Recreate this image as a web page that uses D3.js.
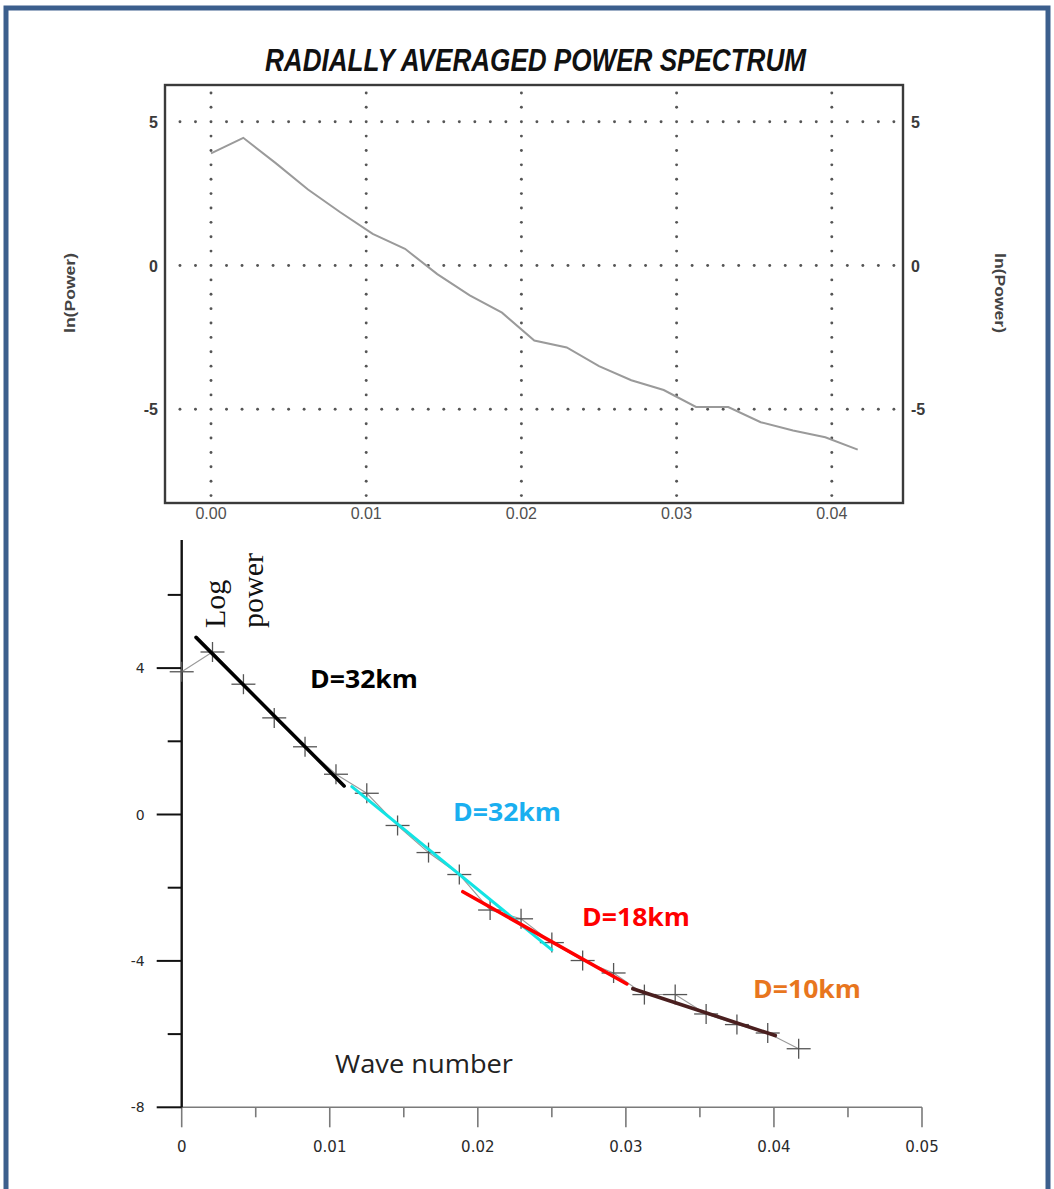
<!DOCTYPE html>
<html>
<head>
<meta charset="utf-8">
<script src="https://cdn.jsdelivr.net/npm/d3@7"></script>
<style>
  html, body { margin: 0; padding: 0; background: #fff; }
  svg { display: block; }
</style>
</head>
<body>
<svg id="chart" width="1054" height="1189"></svg>
<script>
// Radially averaged power spectrum: wave number vs ln(power)
const waveNumber = [0, 0.00208, 0.00417, 0.00625, 0.00833, 0.01042, 0.0125, 0.01458,
  0.01667, 0.01875, 0.02083, 0.02292, 0.025, 0.02708, 0.02917, 0.03125, 0.03333,
  0.03542, 0.0375, 0.03958, 0.04167];
const lnPower = [3.90, 4.44, 3.56, 2.64, 1.85, 1.10, 0.58, -0.30, -1.04, -1.64, -2.61,
  -2.85, -3.50, -3.99, -4.33, -4.92, -4.92, -5.45, -5.74, -5.97, -6.40];

// upper panel ticks
const topXTicks = [0, 0.01, 0.02, 0.03, 0.04];
const topXTickLabels = ["0.00", "0.01", "0.02", "0.03", "0.04"];
const topYTicks = [5, 0, -5];
const topYTickLabels = ["5", "0", "-5"];

// lower panel ticks
const botXTicks = [0, 0.01, 0.02, 0.03, 0.04, 0.05];
const botXTickLabels = ["0", "0.01", "0.02", "0.03", "0.04", "0.05"];
const botXMinor = [0.005, 0.015, 0.025, 0.035, 0.045];
const botYTicks = [4, 0, -4, -8];
const botYTickLabels = ["4", "0", "-4", "-8"];
const botYMinor = [6, 2, -2, -6];

// straight-line fits of the spectral segments (depth estimates)
const fitLabels = ["D=32km", "D=32km", "D=18km", "D=10km"];
const fitX0 = [0.00097, 0.01149, 0.01899, 0.03047];
const fitY0 = [4.84, 0.76, -2.11, -4.76];
const fitX1 = [0.01097, 0.02500, 0.03007, 0.04009];
const fitY1 = [0.78, -3.70, -4.63, -6.04];

// styling for fits and their labels
const fitColors = ["#000000", "#12e4e4", "#ff0000", "#4a1f1f"];
const labelColors = ["#000000", "#1aaff0", "#ff0000", "#e8761e"];
const labelPos = [[310, 688], [453, 821], [582, 926], [753, 998]];

const svg = d3.select("#chart");

// page frame
svg.append("rect")
  .attr("x", 6).attr("y", 8).attr("width", 1042).attr("height", 1220)
  .attr("fill", "none").attr("stroke", "#3c5f8d").attr("stroke-width", 5);

// ---------------- upper panel ----------------
const tb = { left: 165, right: 903, top: 85, bottom: 503 };
const xTop = d3.scaleLinear().domain([0, 0.04]).range([211, 831.8]);
const yTop = d3.scaleLinear().domain([5, -5]).range([121.7, 409.3]);

svg.append("text")
  .attr("x", 535.5).attr("y", 71)
  .attr("text-anchor", "middle")
  .attr("font-family", "Liberation Sans, Arial, sans-serif")
  .attr("font-weight", "bold").attr("font-style", "italic")
  .attr("font-size", 31)
  .attr("textLength", 541).attr("lengthAdjust", "spacingAndGlyphs")
  .attr("fill", "#111")
  .text("RADIALLY AVERAGED POWER SPECTRUM");

const grid = svg.append("g").attr("fill", "#555");
// horizontal dotted grid lines
topYTicks.forEach(v => {
  d3.range(-0.002, 0.04451, 0.001).forEach(x => {
    grid.append("circle").attr("cx", xTop(x)).attr("cy", yTop(v)).attr("r", 1.45);
  });
});
// vertical dotted grid lines
topXTicks.forEach(t => {
  d3.range(6, -8.01, -0.5).forEach(v => {
    if (topYTicks.includes(v)) return;
    grid.append("circle").attr("cx", xTop(t)).attr("cy", yTop(v)).attr("r", 1.45);
  });
});

svg.append("path")
  .datum(waveNumber.map((w, i) => [w, lnPower[i]]))
  .attr("fill", "none").attr("stroke", "#9a9a9a").attr("stroke-width", 2)
  .attr("d", d3.line().x(d => xTop(d[0])).y(d => yTop(d[1])));

svg.append("rect")
  .attr("x", tb.left).attr("y", tb.top)
  .attr("width", tb.right - tb.left).attr("height", tb.bottom - tb.top)
  .attr("fill", "none").attr("stroke", "#3a3a3a").attr("stroke-width", 2.4);

const topFont = "Liberation Sans, Arial, sans-serif";
svg.append("g").selectAll("text").data(topXTicks).join("text")
  .attr("x", d => xTop(d)).attr("y", 519)
  .attr("text-anchor", "middle")
  .attr("font-family", topFont).attr("font-size", 16).attr("fill", "#505050")
  .text((d, i) => topXTickLabels[i]);
svg.append("g").selectAll("text").data(topYTicks).join("text")
  .attr("x", 158).attr("y", d => yTop(d) + 6)
  .attr("text-anchor", "end")
  .attr("font-family", topFont).attr("font-size", 16).attr("font-weight", "bold").attr("fill", "#3a3a3a")
  .text((d, i) => topYTickLabels[i]);
svg.append("g").selectAll("text").data(topYTicks).join("text")
  .attr("x", 911).attr("y", d => yTop(d) + 6)
  .attr("text-anchor", "start")
  .attr("font-family", topFont).attr("font-size", 16).attr("font-weight", "bold").attr("fill", "#3a3a3a")
  .text((d, i) => topYTickLabels[i]);

svg.append("text")
  .attr("transform", "translate(75,293) rotate(-90)")
  .attr("text-anchor", "middle")
  .attr("font-family", topFont).attr("font-size", 15).attr("font-weight", "bold").attr("fill", "#444")
  .attr("textLength", 80).attr("lengthAdjust", "spacingAndGlyphs")
  .text("ln(Power)");
svg.append("text")
  .attr("transform", "translate(995,293) rotate(90)")
  .attr("text-anchor", "middle")
  .attr("font-family", topFont).attr("font-size", 15).attr("font-weight", "bold").attr("fill", "#444")
  .attr("textLength", 80).attr("lengthAdjust", "spacingAndGlyphs")
  .text("ln(Power)");

// ---------------- lower panel ----------------
const xBot = d3.scaleLinear().domain([0, 0.05]).range([181.7, 922]);
const yBot = d3.scaleLinear().domain([-8, 7.5]).range([1107.3, 540]);

// x axis
const xAxisG = svg.append("g").attr("transform", `translate(0,${yBot(-8)})`);
xAxisG.append("line")
  .attr("x1", xBot(0)).attr("x2", xBot(0.05))
  .attr("stroke", "#7a7a7a").attr("stroke-width", 1.6);
xAxisG.selectAll("line.major").data(botXTicks).join("line").attr("class", "major")
  .attr("x1", d => xBot(d)).attr("x2", d => xBot(d))
  .attr("y1", 0).attr("y2", 20)
  .attr("stroke", "#7a7a7a").attr("stroke-width", 1.6);
xAxisG.selectAll("line.minor").data(botXMinor).join("line").attr("class", "minor")
  .attr("x1", d => xBot(d)).attr("x2", d => xBot(d))
  .attr("y1", 0).attr("y2", 10)
  .attr("stroke", "#7a7a7a").attr("stroke-width", 1.6);
xAxisG.selectAll("text").data(botXTicks).join("text")
  .attr("x", d => xBot(d)).attr("y", 45)
  .attr("text-anchor", "middle")
  .attr("font-family", "DejaVu Sans, Verdana, sans-serif").attr("font-size", 15)
  .attr("fill", "#2a2a2a")
  .text((d, i) => botXTickLabels[i]);

// y axis
const yAxisG = svg.append("g").attr("transform", `translate(${xBot(0)},0)`);
yAxisG.append("line")
  .attr("y1", yBot(7.5)).attr("y2", yBot(-8))
  .attr("stroke", "#111").attr("stroke-width", 2.4);
yAxisG.selectAll("line.major").data(botYTicks).join("line").attr("class", "major")
  .attr("x1", -25).attr("x2", 0)
  .attr("y1", d => yBot(d)).attr("y2", d => yBot(d))
  .attr("stroke", "#111").attr("stroke-width", 2);
yAxisG.selectAll("line.minor").data(botYMinor).join("line").attr("class", "minor")
  .attr("x1", -14).attr("x2", 0)
  .attr("y1", d => yBot(d)).attr("y2", d => yBot(d))
  .attr("stroke", "#111").attr("stroke-width", 2);
yAxisG.selectAll("text").data(botYTicks).join("text")
  .attr("x", -37).attr("y", d => yBot(d) + 5)
  .attr("text-anchor", "end")
  .attr("font-family", "DejaVu Sans, Verdana, sans-serif").attr("font-size", 14)
  .attr("fill", "#2a2a2a")
  .text((d, i) => botYTickLabels[i]);

// thin connecting line and + markers
const pts = waveNumber.map((w, i) => [w, lnPower[i]]);
svg.append("path")
  .datum(pts)
  .attr("fill", "none").attr("stroke", "#9a9a9a").attr("stroke-width", 1.1)
  .attr("d", d3.line().x(d => xBot(d[0])).y(d => yBot(d[1])));
const marks = svg.append("g").attr("stroke", "#555").attr("stroke-width", 1.3);
pts.forEach(d => {
  const cx = xBot(d[0]), cy = yBot(d[1]);
  marks.append("line").attr("x1", cx - 12).attr("x2", cx + 12).attr("y1", cy).attr("y2", cy);
  marks.append("line").attr("x1", cx).attr("x2", cx).attr("y1", cy - 10).attr("y2", cy + 10);
});

// fitted segments
svg.append("g").selectAll("line").data(fitLabels).join("line")
  .attr("x1", (d, i) => xBot(fitX0[i])).attr("y1", (d, i) => yBot(fitY0[i]))
  .attr("x2", (d, i) => xBot(fitX1[i])).attr("y2", (d, i) => yBot(fitY1[i]))
  .attr("stroke", (d, i) => fitColors[i])
  .attr("stroke-width", (d, i) => i === 1 ? 3 : 3.6)
  .attr("stroke-linecap", "round");

// depth labels
svg.append("g").selectAll("text").data(fitLabels).join("text")
  .attr("x", (d, i) => labelPos[i][0]).attr("y", (d, i) => labelPos[i][1])
  .attr("font-family", "Open Sans, Lato, sans-serif").attr("font-weight", "bold")
  .attr("font-size", 25)
  .attr("fill", (d, i) => labelColors[i])
  .attr("textLength", 108).attr("lengthAdjust", "spacingAndGlyphs")
  .text(d => d);

// axis captions
svg.append("text")
  .attr("x", 335).attr("y", 1073)
  .attr("font-family", "Open Sans, sans-serif").attr("font-size", 25)
  .attr("fill", "#222")
  .attr("textLength", 178).attr("lengthAdjust", "spacingAndGlyphs")
  .text("Wave number");
svg.append("text")
  .attr("transform", "translate(225,628) rotate(-90)")
  .attr("font-family", "Liberation Serif, Times New Roman, serif").attr("font-size", 30)
  .attr("fill", "#111")
  .text("Log");
svg.append("text")
  .attr("transform", "translate(263,628) rotate(-90)")
  .attr("font-family", "Liberation Serif, Times New Roman, serif").attr("font-size", 30)
  .attr("fill", "#111")
  .text("power");
</script>
</body>
</html>
